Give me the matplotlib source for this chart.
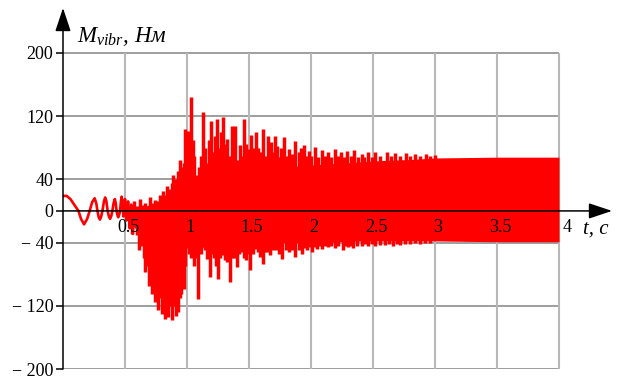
import matplotlib
matplotlib.use("Agg")
import matplotlib.pyplot as plt
import matplotlib.transforms as mtransforms

plt.rcParams['font.family'] = ['Liberation Serif', 'DejaVu Serif']
plt.rcParams['mathtext.fontset'] = 'custom'
plt.rcParams['mathtext.it'] = 'Liberation Serif:italic'
plt.rcParams['mathtext.rm'] = 'Liberation Serif'

# ---- data ----
# early smooth oscillation
early_t = [0.0, 0.03, 0.06, 0.09, 0.125, 0.145, 0.17, 0.195, 0.215, 0.235, 0.255, 0.268,
           0.278, 0.288, 0.298, 0.308, 0.318, 0.33, 0.34, 0.35, 0.36, 0.37, 0.38, 0.39,
           0.398, 0.408, 0.418, 0.425, 0.432, 0.44, 0.446, 0.453, 0.46, 0.467, 0.473,
           0.48, 0.487, 0.493, 0.5, 0.506, 0.512, 0.518, 0.525, 0.531, 0.538, 0.544,
           0.55, 0.556, 0.563, 0.57, 0.576, 0.583, 0.59, 0.6]
early_v = [19, 19, 15, 8, 0, -10, -17, -10, 0, 11, 16, 10, 0, -8, -11, -7, 0, 12, 17,
           12, 0, -7, -10, -6, 0, 10, 15, 10, 0, -6, -8, -5, 0, 12, 18, 8, -7, 5, 15, 3,
           -12, 2, 12, -5, -22, -5, 8, -10, -29, -8, 6, -5, -20, 3]

# dense core band of the oscillation
band_t = [0.56, 0.6, 0.65, 0.7, 0.75, 0.8, 0.85, 0.9, 0.95, 1.0, 1.05, 1.1, 1.2, 1.3,
          1.4, 1.5, 1.6, 1.7, 1.8, 1.9, 2.0, 2.2, 2.4, 2.6, 2.8, 3.0, 3.5, 4.0]
band_hi = [2, 5, 5, 8, 10, 15, 22, 30, 40, 40, 32, 28, 32, 38, 42, 47, 51, 53, 55, 57,
           58, 60, 62, 64, 65, 67, 68, 68]
band_lo = [-15, -25, -48, -72, -92, -102, -106, -102, -85, -42, -46, -46, -46, -45, -43,
           -42, -42, -41, -40, -40, -40, -39, -38, -38, -38, -38, -39, -39]

# upper spike tips
up_t = [0.57, 0.595, 0.62, 0.64, 0.66, 0.68, 0.7, 0.72, 0.74, 0.76, 0.78, 0.795, 0.81,
        0.825, 0.836, 0.85, 0.86, 0.875, 0.89, 0.9, 0.91, 0.925, 0.94, 0.95, 0.96, 0.972,
        0.984, 1.0, 1.01, 1.02, 1.03, 1.045, 1.056, 1.07, 1.08, 1.095, 1.11, 1.12, 1.13,
        1.145, 1.16, 1.175, 1.19, 1.2, 1.215, 1.228, 1.24, 1.252, 1.265, 1.278, 1.29,
        1.305, 1.32, 1.34, 1.36, 1.375, 1.39, 1.41, 1.43, 1.445, 1.46, 1.475, 1.49,
        1.505, 1.52, 1.537, 1.555, 1.57, 1.59, 1.615, 1.63, 1.65, 1.665, 1.68, 1.695,
        1.71, 1.728, 1.745, 1.76, 1.78, 1.80, 1.825, 1.85, 1.87, 1.90, 1.92, 1.94, 1.96,
        1.98, 2.0, 2.03, 2.06, 2.09, 2.115, 2.14, 2.165, 2.19, 2.215, 2.24, 2.265, 2.29,
        2.32, 2.35, 2.38, 2.41, 2.43, 2.46, 2.49, 2.52, 2.56, 2.61, 2.645, 2.68, 2.72,
        2.77, 2.8, 2.84, 2.88, 2.93, 2.96, 3.0]
up_v = [12, 6, 15, 8, 10, 5, 18, 10, 14, 12, 20, 15, 25, 20, 32, 22, 28, 35, 45, 30,
        40, 50, 65, 45, 55, 60, 104, 55, 101, 60, 144, 90, 70, 40, 45, 55, 70, 60, 125,
        80, 60, 90, 114, 60, 75, 95, 116, 70, 80, 100, 119, 85, 91, 70, 108, 75, 108, 65,
        83, 70, 116, 85, 78, 65, 96, 80, 100, 80, 74, 104, 70, 95, 80, 87, 75, 95, 82,
        68, 80, 93, 70, 78, 72, 88, 75, 80, 84, 70, 76, 70, 81, 68, 77, 70, 75, 68, 78,
        70, 74, 68, 76, 70, 77, 68, 72, 68, 74, 68, 75, 70, 75, 70, 73, 70, 73, 70, 72,
        70, 72, 70, 71]

# lower spike tips
dn_t = [0.554, 0.57, 0.585, 0.6, 0.613, 0.627, 0.64, 0.65, 0.66, 0.675, 0.69, 0.705,
        0.72, 0.733, 0.745, 0.758, 0.77, 0.785, 0.80, 0.81, 0.82, 0.835, 0.85, 0.865,
        0.88, 0.895, 0.91, 0.92, 0.93, 0.942, 0.955, 0.966, 0.976, 0.987, 0.997, 1.015,
        1.03, 1.06, 1.075, 1.09, 1.11, 1.127, 1.145, 1.16, 1.185, 1.2, 1.22, 1.235, 1.25,
        1.27, 1.29, 1.305, 1.32, 1.335, 1.35, 1.365, 1.38, 1.405, 1.42, 1.44, 1.46,
        1.475, 1.49, 1.51, 1.53, 1.555, 1.57, 1.585, 1.6, 1.615, 1.63, 1.645, 1.67, 1.695,
        1.72, 1.745, 1.77, 1.795, 1.82, 1.845, 1.87, 1.9, 1.925, 1.945, 1.965, 1.985,
        2.005, 2.025, 2.045, 2.065, 2.09, 2.115, 2.14, 2.165, 2.19, 2.22, 2.255, 2.28,
        2.3, 2.32, 2.34, 2.375, 2.41, 2.435, 2.46, 2.49, 2.52, 2.56, 2.6, 2.63, 2.66,
        2.69, 2.72, 2.76, 2.8, 2.84, 2.88, 2.92, 2.96]
dn_v = [-29, -20, -22, -30, -49, -38, -45, -60, -77, -70, -95, -85, -105, -95, -115,
        -105, -125, -110, -130, -120, -137, -125, -134, -120, -138, -120, -133, -115,
        -128, -110, -105, -95, -99, -70, -47, -55, -60, -70, -60, -112, -55, -40, -50,
        -61, -84, -55, -60, -70, -86, -60, -56, -62, -65, -55, -90, -60, -60, -71, -55,
        -52, -60, -62, -55, -75, -55, -48, -52, -58, -50, -67, -52, -52, -56, -50, -50,
        -55, -61, -50, -52, -50, -58, -50, -54, -47, -50, -46, -52, -46, -48, -45, -48,
        -45, -46, -44, -47, -44, -50, -44, -46, -44, -47, -44, -44, -42, -45, -42, -45,
        -43, -43, -42, -44, -42, -43, -42, -42, -41, -42, -41, -41]

y_ticks = [200, 120, 40, 0, -40, -120, -200]
y_labels = ['200', '120', '40', '0', '\u2212 40', '\u2212 120', '\u2212 200']
x_ticks = [0.5, 1, 1.5, 2, 2.5, 3, 3.5, 4]
x_labels = ['0.5', '1', '1.5', '2', '2.5', '3', '3.5', '4']

RED = '#ff0000'

fig = plt.figure(figsize=(6.18, 3.78), dpi=100)
ax = fig.add_axes([63 / 618, 9 / 378, 549 / 618, 361 / 378])
ax.set_xlim(0, 549 / 124)
ax.set_ylim(-200, -200 + 361 / 0.7904)

for s in ax.spines.values():
    s.set_visible(False)

# grid
ax.hlines([200, 120, 40, -40, -120, -200], 0, 4, color='#8e8e8e', lw=1.2, zorder=0)
ax.vlines(x_ticks, -200, 200, color='#b8b8b8', lw=1.5, zorder=0)

# data
ax.fill_between(band_t, band_lo, band_hi, color=RED, lw=0, zorder=2)
ax.vlines(up_t, 0, up_v, color=RED, lw=2.5, zorder=2)
ax.vlines(dn_t, 0, dn_v, color=RED, lw=2.5, zorder=2)
ax.plot(early_t, early_v, color=RED, lw=1.9, zorder=3, solid_joinstyle='round')

# axes arrows
ytop = -200 + 361 / 0.7904
ax.annotate('', xy=(549 / 124, 0), xytext=(0, 0), xycoords='data',
            arrowprops=dict(arrowstyle='-|>,head_length=0.9,head_width=0.3',
                            color='black', lw=1.1, mutation_scale=16,
                            shrinkA=0, shrinkB=0), annotation_clip=False, zorder=4)
ax.annotate('', xy=(0, ytop), xytext=(0, -200), xycoords='data',
            arrowprops=dict(arrowstyle='-|>,head_length=0.9,head_width=0.3',
                            color='black', lw=1.1, mutation_scale=16,
                            shrinkA=0, shrinkB=0), annotation_clip=False, zorder=4)

# y ticks
ax.set_yticks(y_ticks)
ax.set_yticklabels(y_labels, fontsize=13)
ax.tick_params(axis='y', direction='out', length=5, width=1.1, pad=2, color='black')
ax.set_xticks([])

# x tick labels next to the zero line
for t, lab in zip(x_ticks, x_labels):
    dx = 8 if lab == '4' else 3
    tr = mtransforms.offset_copy(ax.transData, fig=fig, x=dx, y=-8, units='dots')
    ax.text(t, 0, lab, transform=tr, ha='center', va='top', fontsize=13, zorder=5)

# axis titles
ax.text(4.19, -29, 't, с', fontsize=15, style='italic', ha='left', va='baseline')
ax.text(0.113, 214, '$M_{vibr}$, Нм', fontsize=16.5, style='italic', ha='left',
        va='baseline')

fig.savefig('out.png', dpi=100)
